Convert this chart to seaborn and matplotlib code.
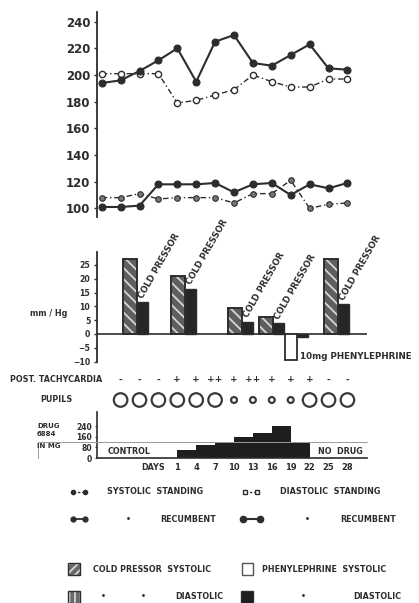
import numpy as np
import matplotlib
matplotlib.use("Agg")
import matplotlib.pyplot as plt
from matplotlib.patches import Rectangle
from matplotlib.lines import Line2D
import seaborn as sns

sns.set_theme(style="white")
plt.rcParams['font.family'] = ['DejaVu Sans']
plt.rcParams['font.weight'] = 'bold'
plt.rcParams['hatch.linewidth'] = 1.3

INK = '#2d2d2d'

# ---- blood pressure readings: four control readings, then days 1..28 ----
slots = np.arange(14)
day_labels = ['1', '4', '7', '10', '13', '16', '19', '22', '25', '28']

sys_recumbent = [194, 196, 203, 211, 220, 195, 225, 230, 209, 207, 215, 223, 205, 204]
sys_standing = [201, 201, 201, 201, 179, 181, 185, 189, 200, 195, 191, 191, 197, 197]
dia_recumbent = [101, 101, 102, 118, 118, 118, 119, 112, 118, 119, 110, 118, 115, 119]
dia_standing = [108, 108, 111, 107, 108, 108, 108, 104, 111, 111, 121, 100, 103, 104]

# ---- cold pressor responses (mm Hg rise) ----
cp_slot = [1.85, 4.41, 7.41, 9.07, 12.5]
cp_systolic = [27.2, 21.0, 9.3, 6.0, 27.2]
cp_diastolic = [11.5, 16.3, 4.5, 3.9, 10.7]

# ---- phenylephrine response ----
ph_slot = 10.32
ph_systolic = -9.4
ph_diastolic = -1.0

# ---- clinical signs (slots 1..13) ----
tachycardia = ['-', '-', '-', '+', '+', '++', '+', '++', '+', '+', '+', '-', '-']
pupils = ['wide'] * 6 + ['narrow'] * 4 + ['wide'] * 3

# ---- daily drug dose (mg) per 3-day interval from day 1 to day 22 ----
doses = [60, 100, 120, 160, 190, 240, 110]

W, H = 419, 603
fig = plt.figure(figsize=(W / 100, H / 100), dpi=100)
fig.patch.set_facecolor('white')


def px_box(x0, y0, x1, y1):
    return [x0 / W, 1 - y1 / H, (x1 - x0) / W, (y1 - y0) / H]


X0, X1 = 96.5, 367
SLOT0, SLOT_W = 101.7, 18.9
XLIM = ((X0 - SLOT0) / SLOT_W, (X1 - SLOT0) / SLOT_W)


def style_left_axis(ax, labelsize):
    for s in ['top', 'right', 'bottom']:
        ax.spines[s].set_visible(False)
    ax.spines['left'].set_color(INK)
    ax.spines['left'].set_linewidth(1.3)
    ax.set_xticks([])
    ax.tick_params(axis='y', left=True, length=2.5, width=1, color=INK, pad=2,
                   labelsize=labelsize, labelcolor=INK)
    ax.patch.set_alpha(0)
    ax.set_xlabel('')
    ax.set_ylabel('')


# ---------------- blood pressure lines ----------------
ax1 = fig.add_axes(px_box(X0, 11.7, X1, 216.7))
dash_dot = (0, (4, 2, 1, 2))
sns.lineplot(x=slots, y=sys_standing, ax=ax1, color=INK, lw=1.0, linestyle=dash_dot,
             marker='o', markersize=4.5, markerfacecolor='white', markeredgecolor=INK, mew=1.0)
sns.lineplot(x=slots, y=dia_standing, ax=ax1, color=INK, lw=1.0, linestyle=dash_dot,
             marker='o', markersize=4.0, markerfacecolor='#777777', markeredgecolor=INK, mew=0.8)
sns.lineplot(x=slots, y=sys_recumbent, ax=ax1, color=INK, lw=1.5,
             marker='o', markersize=5.0, markerfacecolor=INK, markeredgecolor=INK, mew=0.8)
sns.lineplot(x=slots, y=dia_recumbent, ax=ax1, color=INK, lw=1.5,
             marker='o', markersize=5.0, markerfacecolor=INK, markeredgecolor=INK, mew=0.8)
ax1.set_xlim(*XLIM)
ax1.set_ylim(93.7, 247.5)
ax1.set_yticks(range(100, 241, 20))
style_left_axis(ax1, 8.5)

# ---------------- cold pressor / phenylephrine bars ----------------
ax2 = fig.add_axes(px_box(X0, 251.7, X1, 361.6))
ax2.set_xlim(*XLIM)
ax2.set_ylim(-10, 29.8)
ax2.axhline(0, color=INK, lw=1.2, zorder=1)
ax2.bar(cp_slot, cp_systolic, width=-0.73, align='edge', color='#5e5e5e',
        edgecolor='#d6d6d6', hatch='\\\\\\', linewidth=0, zorder=2)
ax2.bar(cp_slot, cp_systolic, width=-0.73, align='edge', fill=False,
        edgecolor=INK, linewidth=1.4, zorder=3)
ax2.bar(cp_slot, cp_diastolic, width=0.6, align='edge', color='#262626',
        edgecolor=INK, linewidth=1.0, zorder=3)
ax2.bar([ph_slot], [ph_systolic], width=-0.62, align='edge', color='white',
        edgecolor=INK, linewidth=1.3, zorder=3)
ax2.bar([ph_slot], [ph_diastolic], width=0.6, align='edge', color='#262626',
        edgecolor=INK, linewidth=1.0, zorder=3)
for xs, yd in zip(cp_slot, cp_diastolic):
    ax2.text(xs + 0.42, yd + 0.9, 'COLD PRESSOR', rotation=60, rotation_mode='anchor',
             ha='left', va='bottom', fontsize=6.2, color=INK, clip_on=False)
ax2.text(ph_slot + 0.17, ph_systolic + 1.1, '10mg PHENYLEPHRINE', ha='left', va='center',
         fontsize=6.3, color=INK, clip_on=False)
ax2.set_yticks(range(-10, 26, 5))
style_left_axis(ax2, 5.6)

# ---------------- tachycardia and pupils ----------------
ax_s = fig.add_axes(px_box(X0, 370, X1, 410))
ax_s.set_xlim(*XLIM)
ax_s.set_ylim(410, 370)
ax_s.axis('off')
for xs, mark in zip(slots[1:], tachycardia):
    ax_s.text(xs, 380, mark, ha='center', va='center', fontsize=6.5, color=INK)
pupil_size = {'wide': 95, 'narrow': 18}
ax_s.scatter(slots[1:], [400] * len(pupils), s=[pupil_size[p] for p in pupils],
             facecolors='none', edgecolors='#3a3a3a', linewidths=1.6, clip_on=False)

# ---------------- drug dose steps ----------------
ax3 = fig.add_axes(px_box(X0, 411.7, X1, 458))
ax3.bar(slots[4:11], doses, width=1.0, align='edge', color='#1e1e1e', linewidth=0)
ax3.set_xlim(*XLIM)
ax3.set_ylim(0, 351)
for s in ['top', 'right']:
    ax3.spines[s].set_visible(False)
for s in ['left', 'bottom']:
    ax3.spines[s].set_color(INK)
    ax3.spines[s].set_linewidth(1.2)
ax3.set_yticks([0, 80, 160, 240])
ax3.set_xticks(slots[4:])
ax3.set_xticklabels(day_labels)
ax3.tick_params(axis='y', left=True, length=1.5, width=0.8, color=INK, pad=1.5,
                labelsize=5.5, labelcolor=INK)
ax3.tick_params(axis='x', length=0, pad=3.5, labelsize=6, labelcolor=INK)
ax3.patch.set_alpha(0)

# ---------------- labels and key ----------------
ov = fig.add_axes([0, 0, 1, 1])
ov.set_xlim(0, W)
ov.set_ylim(H, 0)
ov.axis('off')
ov.patch.set_alpha(0)

txt = dict(color=INK, fontsize=5.8, va='center')
ov.text(49, 314, 'mm / Hg', ha='center', **txt)
ov.text(102, 380, 'POST. TACHYCARDIA', ha='right', **txt)
ov.text(40, 400, 'PUPILS', ha='left', **txt)
ov.text(37, 426.5, 'DRUG', ha='left', fontsize=5, color=INK, va='center')
ov.text(37, 434.5, '6884', ha='left', fontsize=5, color=INK, va='center')
ov.text(37, 445.5, 'IN MG', ha='left', fontsize=5, color=INK, va='center')
ov.plot([38, 367], [441.5, 441.5], color='#9a9a9a', lw=0.7)
ov.plot([38, 38], [441.5, 458], color='#9a9a9a', lw=0.7)
ov.text(108, 451, 'CONTROL', ha='left', **txt)
ov.text(318, 451, 'NO  DRUG', ha='left', **txt)
ov.text(165, 467.5, 'DAYS', ha='right', **txt)

# key: line styles
ov.add_line(Line2D([73, 85], [491.7, 491.7], color=INK, lw=0.9, ls=(0, (2, 1.5)),
                   marker='o', ms=3, mfc=INK, mec=INK))
ov.text(107, 491.7, 'SYSTOLIC  STANDING', ha='left', **txt)
ov.add_line(Line2D([245, 257], [491.7, 491.7], color=INK, lw=0.9, ls=(0, (2, 1.5)),
                   marker='s', ms=3, mfc='white', mec=INK))
ov.text(280, 491.7, 'DIASTOLIC  STANDING', ha='left', **txt)
ov.add_line(Line2D([73, 85], [519, 519], color=INK, lw=1.3, marker='o', ms=3.5,
                   mfc=INK, mec=INK))
ov.text(128, 519, '•', ha='center', **txt)
ov.text(160, 519, 'RECUMBENT', ha='left', **txt)
ov.add_line(Line2D([243, 260], [519, 519], color=INK, lw=1.5, marker='o', ms=4.5,
                   mfc=INK, mec=INK))
ov.text(307, 519, '•', ha='center', **txt)
ov.text(340, 519, 'RECUMBENT', ha='left', **txt)

# key: bar fills
ov.add_patch(Rectangle((68, 563), 12, 12, facecolor='#6a6a6a', edgecolor='#d6d6d6',
                       hatch='////', lw=0))
ov.add_patch(Rectangle((68, 563), 12, 12, fill=False, edgecolor=INK, lw=1))
ov.text(93, 569, 'COLD PRESSOR  SYSTOLIC', ha='left', **txt)
ov.add_patch(Rectangle((242, 563), 11, 12, facecolor='white', edgecolor='#555555', lw=1))
ov.text(262, 569, 'PHENYLEPHRINE  SYSTOLIC', ha='left', **txt)
ov.add_patch(Rectangle((68, 590.5), 12, 12, facecolor='#6a6a6a', edgecolor='#d6d6d6',
                       hatch='|||', lw=0))
ov.add_patch(Rectangle((68, 590.5), 12, 12, fill=False, edgecolor=INK, lw=1))
ov.text(103, 596.7, '•', ha='center', **txt)
ov.text(143, 596.7, '•', ha='center', **txt)
ov.text(175, 596.7, 'DIASTOLIC', ha='left', **txt)
ov.add_patch(Rectangle((241, 590.5), 12, 12, facecolor='#1e1e1e', edgecolor=INK, lw=1))
ov.text(303, 596.7, '•', ha='center', **txt)
ov.text(353, 596.7, 'DIASTOLIC', ha='left', **txt)

fig.savefig('out.png', dpi=100, facecolor='white')
